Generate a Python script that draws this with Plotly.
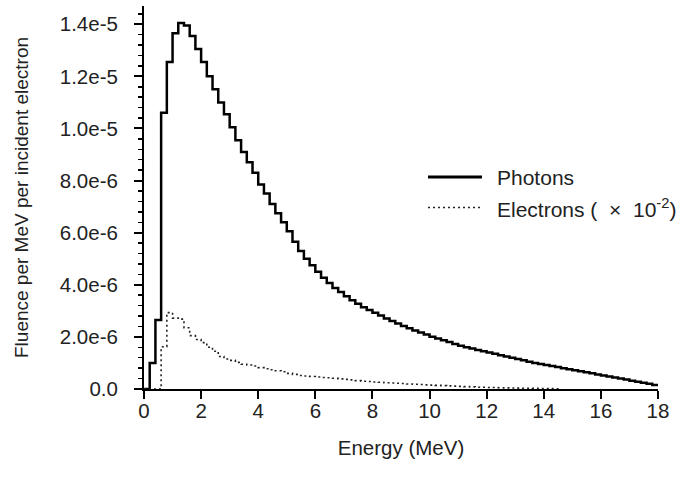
import numpy as np
import plotly.graph_objects as go

# Bin width 0.2 MeV, 0 to 18 MeV
bin_width = 0.2
energy_max = 18.0

# Photon fluence per MeV per incident electron (units of 1e-6), one value per 0.2 MeV bin
photons_e6 = [
    0.0, 1.0, 2.65, 10.6, 12.55, 13.65, 14.05, 13.95, 13.55, 13.05,
    12.55, 12.0, 11.5, 11.0, 10.55, 10.05, 9.55, 9.1, 8.7, 8.3,
    7.85, 7.5, 7.1, 6.75, 6.4, 6.05, 5.65, 5.3, 5.0, 4.75,
    4.5, 4.27, 4.07, 3.88, 3.72, 3.56, 3.41, 3.27, 3.14, 3.03,
    2.93, 2.82, 2.71, 2.61, 2.51, 2.42, 2.33, 2.25, 2.17, 2.09,
    2.01, 1.94, 1.87, 1.80, 1.73, 1.66, 1.60, 1.55, 1.50, 1.45,
    1.40, 1.35, 1.30, 1.25, 1.20, 1.15, 1.10, 1.05, 1.00, 0.96,
    0.92, 0.88, 0.84, 0.80, 0.76, 0.72, 0.68, 0.64, 0.60, 0.56,
    0.52, 0.48, 0.44, 0.40, 0.36, 0.32, 0.28, 0.24, 0.20, 0.15,
]

# Electron fluence (x 1e-2), units of 1e-6, from 0 MeV up to 14.6 MeV
electrons_e6 = [
    0.0, 0.0, 0.0,
    1.62, 2.93, 2.72, 2.68, 2.35, 2.05, 1.9, 1.78, 1.6, 1.45,
    1.25, 1.15, 1.1, 1.02, 0.95, 0.92, 0.88, 0.82, 0.78, 0.74,
    0.70, 0.66, 0.6, 0.56, 0.52, 0.5, 0.48, 0.46, 0.44, 0.43,
    0.41, 0.39, 0.37, 0.35, 0.32, 0.30, 0.29, 0.27, 0.26, 0.24,
    0.23, 0.22, 0.21, 0.19, 0.18, 0.17, 0.16, 0.15, 0.14, 0.13,
    0.12, 0.11, 0.10, 0.09, 0.08, 0.07, 0.065, 0.06, 0.055, 0.05,
    0.045, 0.04, 0.035, 0.03, 0.03, 0.025, 0.02, 0.02, 0.015, 0.01,
]

y_tick_values_e6 = [0, 2, 4, 6, 8, 10, 12, 14]
y_tick_labels = ["0.0", "2.0e-6", "4.0e-6", "6.0e-6", "8.0e-6", "1.0e-5", "1.2e-5", "1.4e-5"]
x_tick_values = [0, 2, 4, 6, 8, 10, 12, 14, 16, 18]

series_names = ["Photons", "Electrons (\u00a0 \u00d7\u00a0 10<sup>-2</sup>)"]

scale = 1e-6
n_ph = len(photons_e6)
edges = np.round(np.arange(n_ph + 1) * bin_width, 4)

ph_y = np.array(photons_e6 + [photons_e6[-1]]) * scale
el_y = np.array(electrons_e6 + [electrons_e6[-1]]) * scale
el_x = edges[: len(electrons_e6) + 1]

FONT = "Liberation Sans, Arial, Helvetica, sans-serif"
TXT = "#222222"

fig = go.Figure()
fig.add_trace(go.Scatter(x=edges, y=ph_y, mode="lines", line_shape="hv",
                         line=dict(color="black", width=2.5), showlegend=False,
                         name="Photons"))
fig.add_trace(go.Scatter(x=el_x, y=el_y, mode="lines", line_shape="hv",
                         line=dict(color="#222222", width=1.6, dash="2px,3px"),
                         showlegend=False, name="Electrons"))

W, H = 689, 478
ml, mr, mt, mb = 144, 31, 6, 89
pw, ph = W - ml - mr, H - mt - mb

def px(x):
    return (x - ml) / pw

def py(y):
    return (H - mb - y) / ph

# manual legend
fig.add_shape(type="line", xref="paper", yref="paper", x0=px(428), x1=px(482),
              y0=py(177), y1=py(177), line=dict(color="black", width=3))
fig.add_shape(type="line", xref="paper", yref="paper", x0=px(428), x1=px(482),
              y0=py(207.5), y1=py(207.5), line=dict(color="#222222", width=1.6, dash="2px,3px"))
fig.add_annotation(xref="paper", yref="paper", x=px(495), y=py(177), text=series_names[0],
                   showarrow=False, xanchor="left", yanchor="middle",
                   font=dict(family=FONT, size=21, color=TXT))
fig.add_annotation(xref="paper", yref="paper", x=px(495), y=py(208), text=series_names[1],
                   showarrow=False, xanchor="left", yanchor="middle",
                   font=dict(family=FONT, size=21, color=TXT))

fig.update_layout(
    width=W, height=H,
    margin=dict(l=ml, r=mr, t=mt, b=mb, autoexpand=False),
    paper_bgcolor="white", plot_bgcolor="white",
    hovermode=False,
    font=dict(family=FONT, color=TXT, size=20),
    xaxis=dict(range=[0, energy_max], showline=True, linecolor="black", linewidth=2,
               ticks="outside", ticklen=8, tickwidth=2, tickcolor="black",
               tickvals=x_tick_values, showgrid=False, zeroline=False, automargin=False,
               ticklabelstandoff=-6,
               tickfont=dict(family=FONT, size=20.5, color=TXT),
               title=dict(text="Energy (MeV)", font=dict(family=FONT, size=20.5, color=TXT), standoff=20)),
    yaxis=dict(range=[0, 14.7 * scale], showline=True, linecolor="black", linewidth=2,
               ticks="outside", ticklen=8, tickwidth=2, tickcolor="black",
               tickvals=[v * scale for v in y_tick_values_e6], ticktext=y_tick_labels,
               showgrid=False, zeroline=False, ticklabelstandoff=12, automargin=False,
               minor=dict(tickmode="linear", tick0=0, dtick=0.4 * scale, ticks="outside",
                          ticklen=4, tickwidth=1.5, tickcolor="black", showgrid=False),
               tickfont=dict(family=FONT, size=20.5, color=TXT),
               title=dict(text="Fluence per MeV per incident electron",
                          font=dict(family=FONT, size=19, color=TXT), standoff=26)),
)

fig.write_html("out.html", config={"displayModeBar": False, "staticPlot": True},
               post_script="document.body.style.margin='0';document.body.style.padding='0';")
